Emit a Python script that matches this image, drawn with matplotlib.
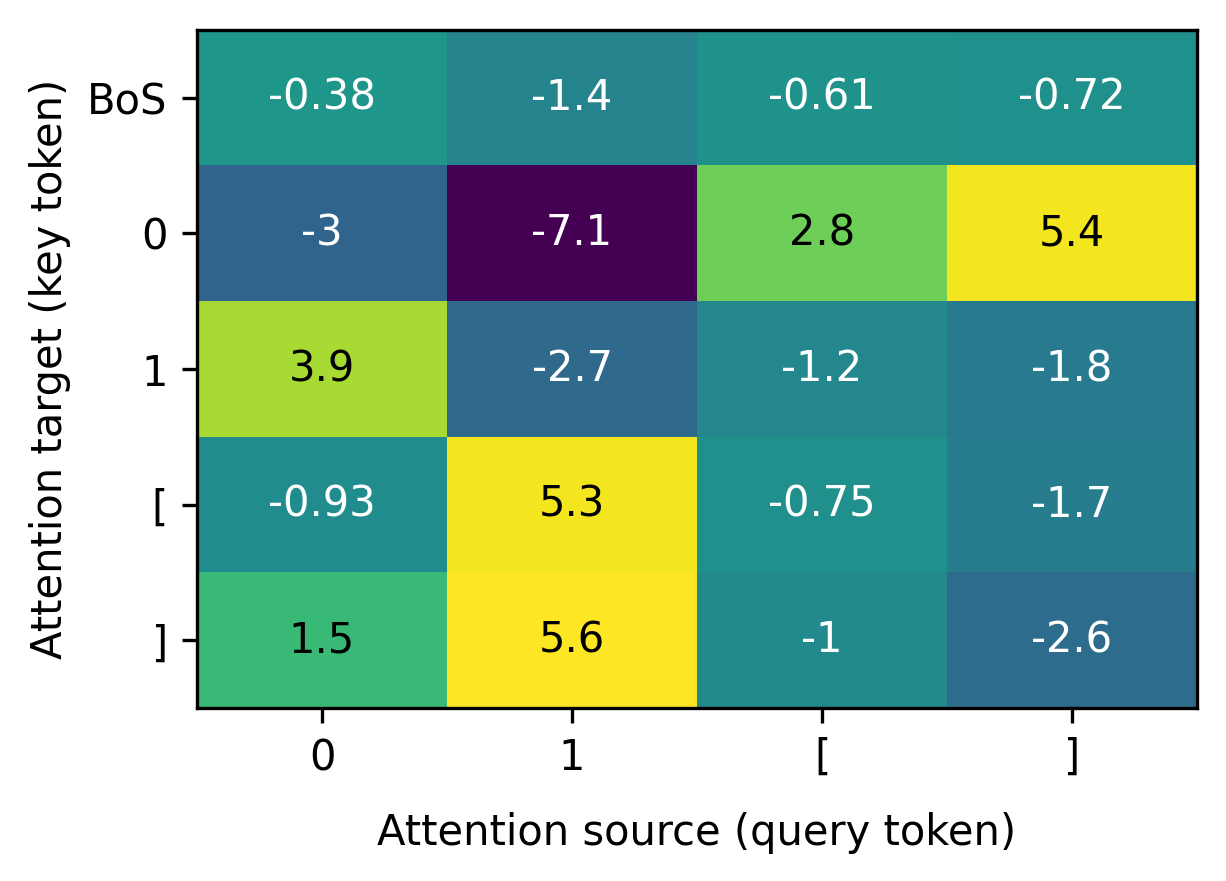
import matplotlib
matplotlib.use("Agg")
import matplotlib.pyplot as plt
import numpy as np

cols = ["0", "1", "[", "]"]
rows = ["BoS", "0", "1", "[", "]"]
values = [
    [-0.38, -1.4, -0.61, -0.72],
    [-3, -7.1, 2.8, 5.4],
    [3.94, -2.7, -1.2, -1.8],
    [-0.93, 5.36, -0.75, -1.7],
    [1.5, 5.6, -1, -2.6],
]
labels = [
    ["-0.38", "-1.4", "-0.61", "-0.72"],
    ["-3", "-7.1", "2.8", "5.4"],
    ["3.9", "-2.7", "-1.2", "-1.8"],
    ["-0.93", "5.3", "-0.75", "-1.7"],
    ["1.5", "5.6", "-1", "-2.6"],
]

data = np.array(values)
fig = plt.figure(figsize=(1226/300, 881/300), dpi=300)
ax = fig.add_axes([197/1226, 1-708/881, 1000/1226, 678/881])
ax.imshow(data, cmap="viridis", aspect="auto")
for i in range(len(rows)):
    for j in range(len(cols)):
        c = "black" if data[i, j] > 0 else "white"
        ax.text(j, i, labels[i][j], ha="center", va="center", color=c, fontsize=10)
ax.set_xticks(range(len(cols)))
ax.set_xticklabels(cols)
ax.set_yticks(range(len(rows)))
ax.set_yticklabels(rows)
ax.set_xlabel("Attention source (query token)", labelpad=8)
ax.set_ylabel("Attention target (key token)")
fig.savefig("out.png", dpi=300)
